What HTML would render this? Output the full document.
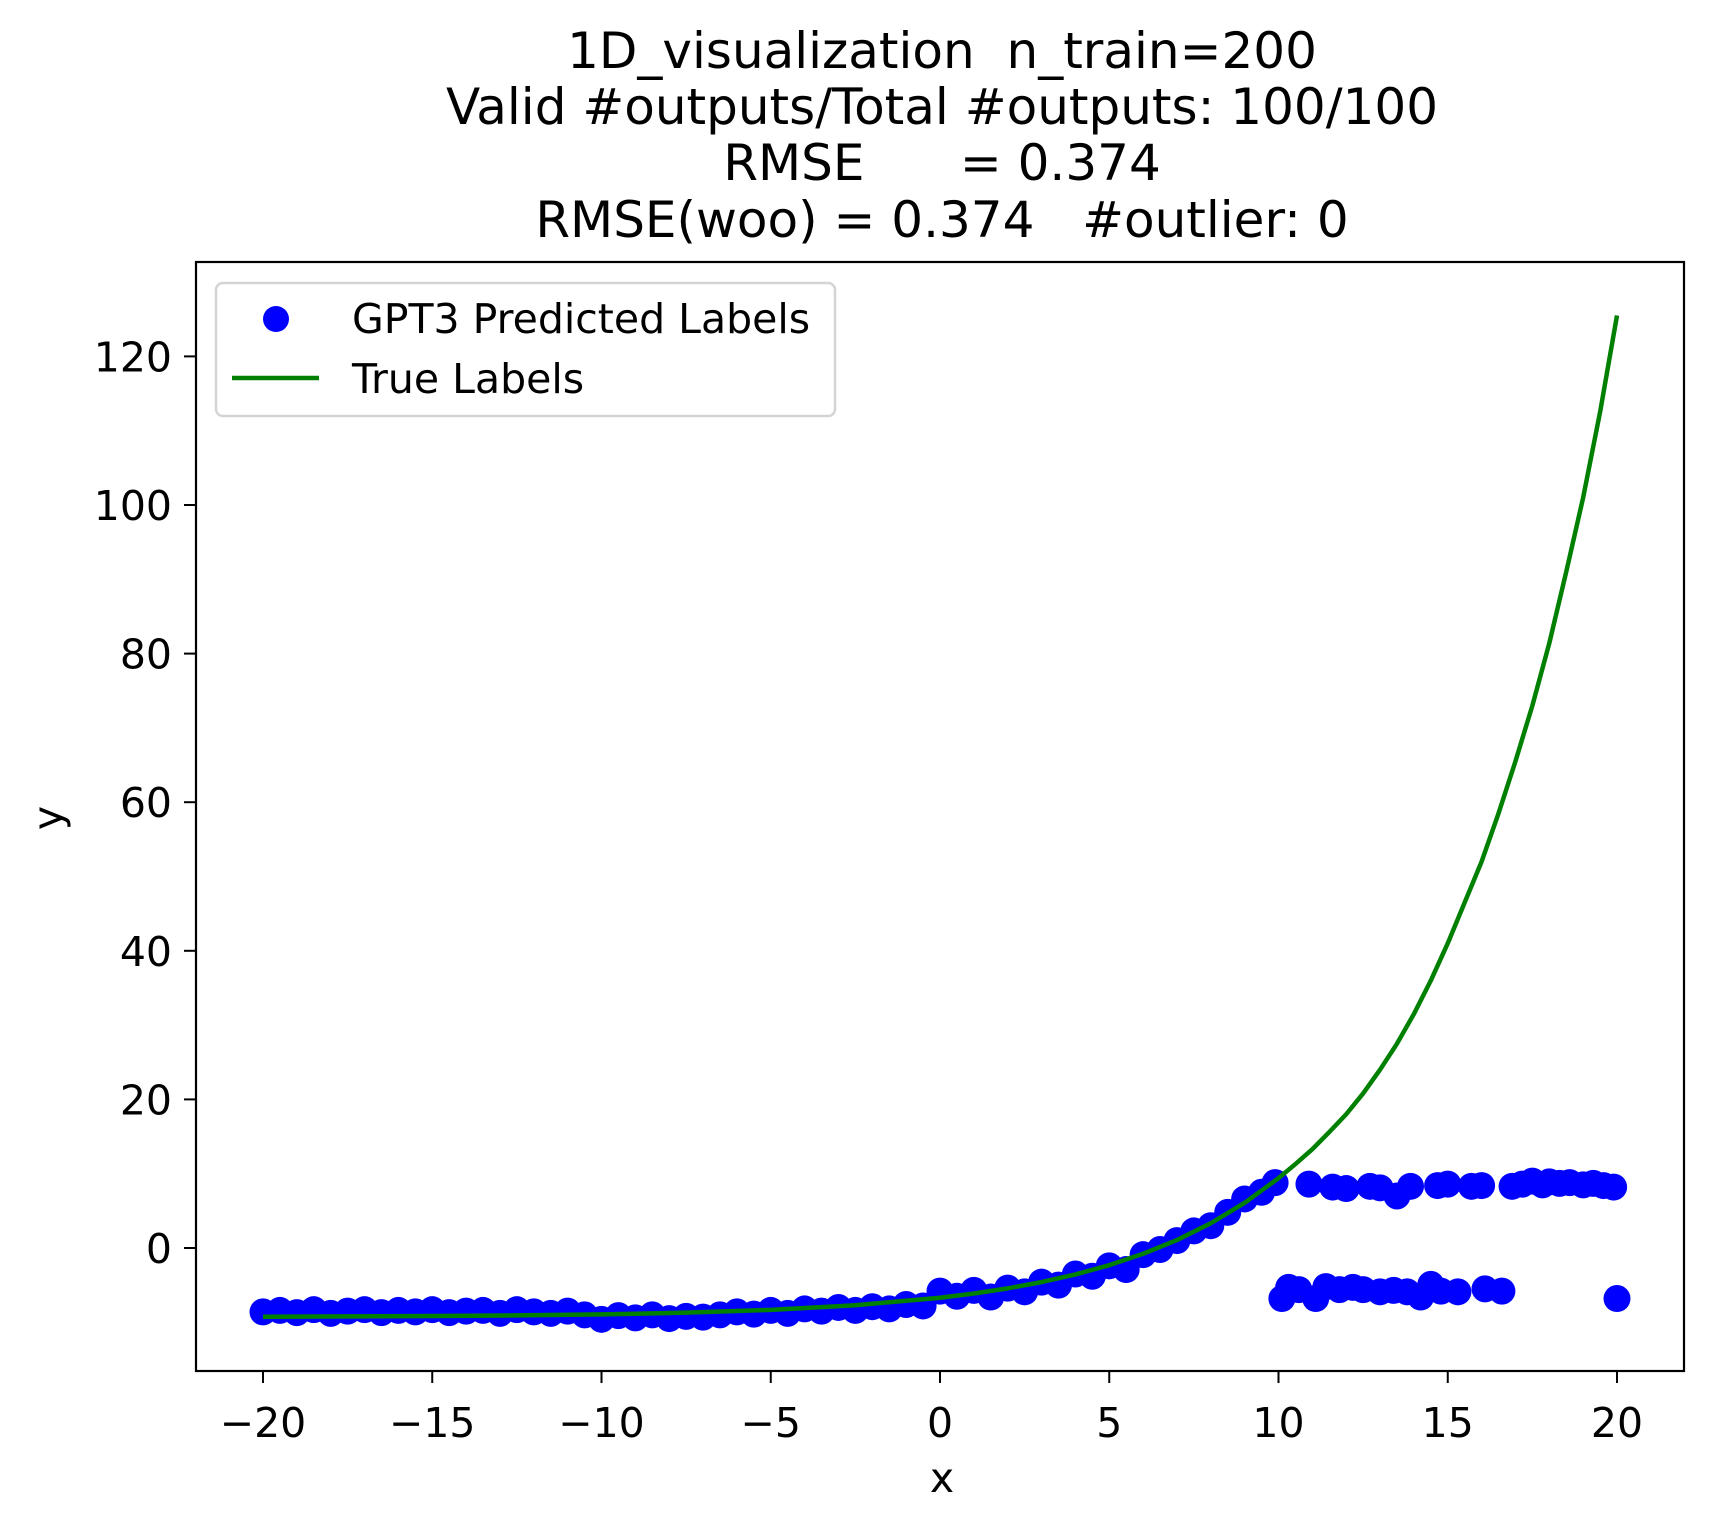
<!DOCTYPE html>
<html><head><meta charset="utf-8"><style>
body{margin:0;background:#fff}
svg{display:block;font-family:"DejaVu Sans","Liberation Sans",sans-serif}
</style></head><body>
<svg id="chart" width="1713" height="1526" viewBox="0 0 1713 1526">
<rect width="1713" height="1526" fill="#fff"/>
<g font-size="50" text-anchor="middle" fill="#000">
<text x="942" y="68" xml:space="preserve">1D_visualization  n_train=200</text>
<text x="942" y="124">Valid #outputs/Total #outputs: 100/100</text>
<text x="942" y="180" xml:space="preserve">RMSE      = 0.374</text>
<text x="942" y="237" xml:space="preserve">RMSE(woo) = 0.374   #outlier: 0</text>
</g>
<g id="plot"></g>
<rect x="196" y="262" width="1488" height="1109" fill="none" stroke="#000" stroke-width="2.2"/>
<g id="xticks"></g>
<g id="yticks"></g>
<text x="942" y="1492" font-size="41" text-anchor="middle">x</text>
<text transform="translate(62,818) rotate(-90)" font-size="41" text-anchor="middle">y</text>
<g>
<rect x="216" y="283" width="619" height="133" rx="7" fill="#fff" fill-opacity="0.8" stroke="#d4d4d4" stroke-width="2.5"/>
<circle cx="276" cy="319" r="13" fill="#0000ff"/>
<text x="352" y="333" font-size="41">GPT3 Predicted Labels</text>
<line x1="232" y1="378" x2="319" y2="378" stroke="#008000" stroke-width="4.5"/>
<text x="352" y="393" font-size="41">True Labels</text>
</g>
</svg>
<script>
const predX = [-20,-19.5,-19,-18.5,-18,-17.5,-17,-16.5,-16,-15.5,-15,-14.5,-14,-13.5,-13,-12.5,-12,-11.5,-11,-10.5,-10,-9.5,-9,-8.5,-8,-7.5,-7,-6.5,-6,-5.5,-5,-4.5,-4,-3.5,-3,-2.5,-2,-1.5,-1,-0.5,
0,0.5,1,1.5,2,2.5,3,3.5,4,4.5,5,5.5,6,6.5,7,7.5,8,8.5,9,9.5,9.9,
10.9,11.6,12,12.7,13,13.5,13.9,14.7,15,15.7,16,16.9,17.2,17.5,17.8,18,18.3,18.6,19,19.3,19.6,19.9,
10.1,10.3,10.6,11.1,11.4,11.8,12.2,12.5,13,13.4,13.8,14.2,14.5,14.8,15.3,16.1,16.6,20];
const predY = [-8.6,-8.4,-8.7,-8.3,-8.8,-8.5,-8.3,-8.7,-8.4,-8.6,-8.3,-8.7,-8.5,-8.4,-8.8,-8.3,-8.6,-8.8,-8.5,-9.0,
-9.6,-9.1,-9.4,-9.0,-9.5,-9.2,-9.3,-9.0,-8.6,-8.9,-8.4,-8.8,-8.2,-8.5,-8.0,-8.4,-7.9,-8.2,-7.6,-7.8,
-5.8,-6.5,-5.7,-6.6,-5.4,-5.9,-4.6,-5.0,-3.5,-3.8,-2.4,-2.9,-0.9,-0.2,1.0,2.3,3.0,4.8,6.6,7.5,8.8,
8.6,8.2,8.0,8.3,8.1,7.0,8.3,8.4,8.6,8.3,8.4,8.3,8.6,9.0,8.5,8.9,8.7,8.8,8.5,8.7,8.4,8.2,
-6.8,-5.3,-5.6,-6.8,-5.2,-5.6,-5.3,-5.6,-5.9,-5.7,-5.9,-6.6,-4.9,-5.8,-5.9,-5.5,-5.8,-6.8];
const trueX = [-20,-17.5,-15,-12.5,-10,-7.5,-5,-2.5,0,1,2,3,4,5,6,7,8,9,10,10.5,11,11.5,12,12.5,13,13.5,14,14.5,15,15.5,16,16.5,17,17.5,18,18.5,19,19.5,20];
const trueY = [-9.25,-9.21,-9.16,-9.07,-8.94,-8.7,-8.33,-7.7,-6.69,-6.12,-5.43,-4.59,-3.56,-2.31,-0.78,1.07,3.33,6.08,9.4,11.3,13.3,15.6,18,20.8,24,27.5,31.5,36,41,46.5,52,58.5,65.5,73,81.4,91,101,112.5,125.5];
const xTicks = [-20,-15,-10,-5,0,5,10,15,20];
const yTicks = [0,20,40,60,80,100,120];
const NS='http://www.w3.org/2000/svg';
const X = v => 940 + v*33.85;
const Y = v => 1248 - v*7.43;
const plot = document.getElementById('plot');
for (let i=0;i<predX.length;i++){
  const c=document.createElementNS(NS,'circle');
  c.setAttribute('cx',X(predX[i]));c.setAttribute('cy',Y(predY[i]));c.setAttribute('r',13.5);c.setAttribute('fill','#0000ff');
  
  
  plot.appendChild(c);
}
const pl=document.createElementNS(NS,'polyline');
pl.setAttribute('points',trueX.map((x,i)=>X(x)+','+Y(trueY[i])).join(' '));
pl.setAttribute('fill','none');pl.setAttribute('stroke','#008000');pl.setAttribute('stroke-width','4.5');pl.setAttribute('stroke-linejoin','round');


plot.appendChild(pl);
const xg=document.getElementById('xticks');
xTicks.forEach(t=>{
  const l=document.createElementNS(NS,'line');
  l.setAttribute('x1',X(t));l.setAttribute('x2',X(t));l.setAttribute('y1',1371);l.setAttribute('y2',1383);l.setAttribute('stroke','#000');l.setAttribute('stroke-width','2');
  
  
  xg.appendChild(l);
  const tx=document.createElementNS(NS,'text');
  tx.setAttribute('x',X(t));tx.setAttribute('y',1437);tx.setAttribute('font-size','41');tx.setAttribute('text-anchor','middle');
  tx.textContent=(t<0?'\u2212'+(-t):String(t));
  
  
  xg.appendChild(tx);
});
const yg=document.getElementById('yticks');
yTicks.forEach(t=>{
  const l=document.createElementNS(NS,'line');
  l.setAttribute('x1',184);l.setAttribute('x2',196);l.setAttribute('y1',Y(t));l.setAttribute('y2',Y(t));l.setAttribute('stroke','#000');l.setAttribute('stroke-width','2');
  
  
  yg.appendChild(l);
  const tx=document.createElementNS(NS,'text');
  tx.setAttribute('x',172);tx.setAttribute('y',Y(t)+15);tx.setAttribute('font-size','41');tx.setAttribute('text-anchor','end');
  tx.textContent=String(t);
  
  
  yg.appendChild(tx);
});
</script>
</body></html>
